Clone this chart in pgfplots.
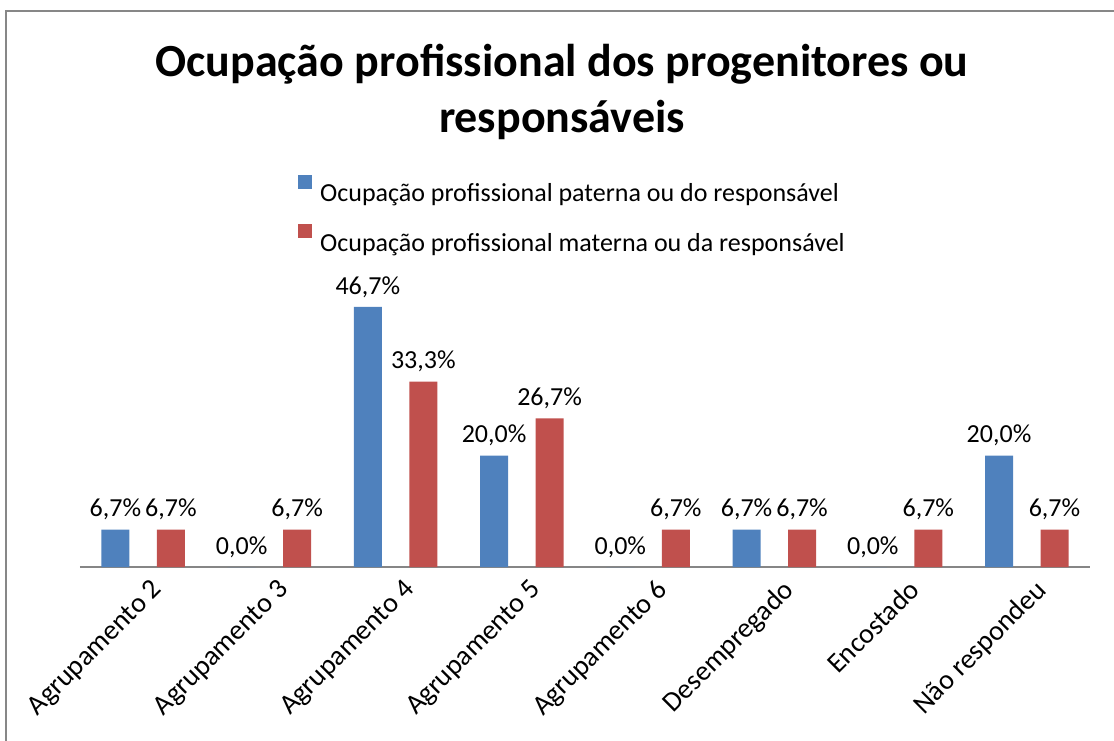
\documentclass[border=0pt]{standalone}
\usepackage{fontspec}
\setmainfont{Carlito}
\usepackage{pgfplots}
\pgfplotsset{compat=1.18}
\definecolor{bblue}{HTML}{4F81BD}
\definecolor{bred}{HTML}{C0504D}
\definecolor{framegray}{HTML}{878787}
\definecolor{axisgray}{HTML}{868686}
\begin{document}
\begin{tikzpicture}
\path[use as bounding box] (0pt,0pt) rectangle (1114pt,-740pt);
\draw[framegray, line width=2pt] (6pt,-742pt) -- (6pt,-11pt) -- (1116pt,-11pt);
\node[font=\fontsize{46}{56}\selectfont\bfseries, align=center] at (562pt,-92pt)
  {Ocupação profissional dos progenitores ou\\responsáveis};
\begin{axis}[
  at={(80pt,-567pt)}, anchor=south west,
  scale only axis, width=1010pt, height=278.5pt,
  ybar=27.5pt, bar width=28pt,
  xmin=-0.5, xmax=7.5, ymin=0, ymax=50,
  xtick={0,...,7},
  xticklabels={Agrupamento 2,Agrupamento 3,Agrupamento 4,Agrupamento 5,Agrupamento 6,Desempregado,Encostado,Não respondeu},
  xticklabel style={xshift=7pt, yshift=-6pt, rotate=45, anchor=north east, font=\fontsize{28}{33}\selectfont},
  axis x line*=bottom, axis y line=none,
  x axis line style={axisgray, line width=2pt, -},
  major tick length=0pt,
  clip=false,
  /pgf/number format/assume math mode=true,
  nodes near coords={\pgfmathprintnumber[fixed,fixed zerofill,precision=1,use comma]{\pgfplotspointmeta}\%},
  every node near coord/.append style={font=\fontsize{26}{31}\selectfont, anchor=south, yshift=6pt, black},
  legend style={draw=none, fill=none, at={(axis description cs:0.2158,1.41)}, anchor=north west,
    font=\fontsize{26}{31}\selectfont, row sep=19pt, inner sep=0pt,
    /tikz/every odd column/.append style={column sep=6pt}},
  legend cell align=left,
  legend image code/.code={\fill[#1] (0pt,5pt) rectangle (14pt,19pt);},
]
\addplot[fill=bblue, draw=none] coordinates {(0,6.7) (1,0) (2,46.7) (3,20) (4,0) (5,6.7) (6,0) (7,20)};
\addplot[fill=bred, draw=none] coordinates {(0,6.7) (1,6.7) (2,33.3) (3,26.7) (4,6.7) (5,6.7) (6,6.7) (7,6.7)};
\legend{Ocupação profissional paterna ou do responsável,Ocupação profissional materna ou da responsável}
\end{axis}
\end{tikzpicture}
\end{document}
